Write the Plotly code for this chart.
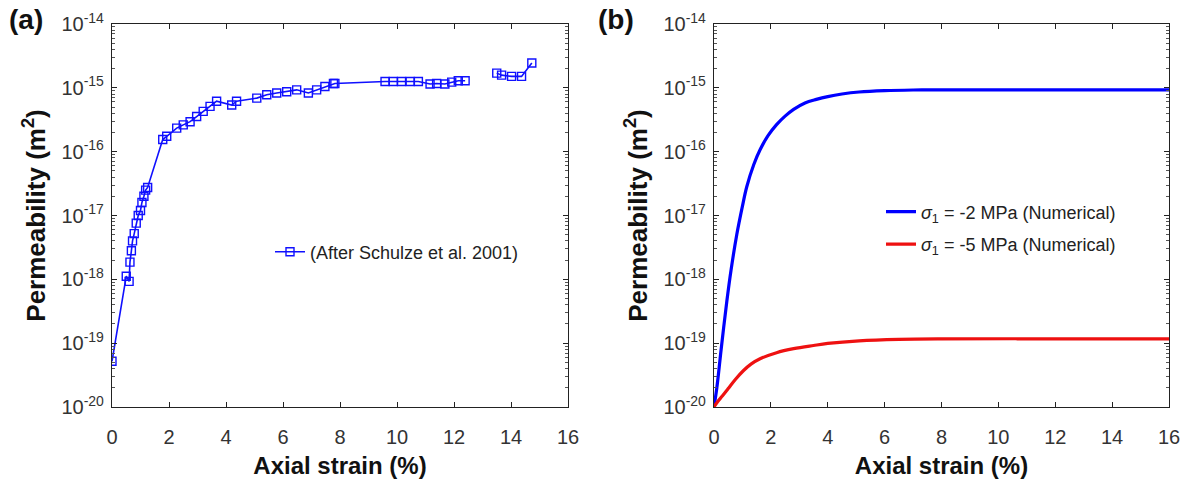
import plotly.graph_objects as go

# ---------------- data ----------------
# (a) experimental data, after Schulze et al. 2001 (None = gap in the line)
strain_exp = [0.0, 0.50, 0.60, 0.63, 0.68, 0.72, 0.78, 0.85, 0.92, 1.00, 1.05, 1.12, 1.18, 1.25,
              1.78, 1.92, 2.27, 2.50, 2.74, 2.97, 3.20, 3.44, 3.67,
              4.20, 4.37, 5.08, 5.43, 5.78, 6.13, 6.48, 6.89, 7.18, 7.47, 7.77, 7.82,
              9.58, 9.87, 10.16, 10.46, 10.75, 11.16, 11.39, 11.68, 11.92, 12.15, 12.39,
              None,
              13.50, 13.67, 14.02, 14.37, 14.73]
perm_exp = [5.2e-20, 1.12e-18, 9.3e-19, 1.86e-18, 2.8e-18, 4.0e-18, 5.2e-18, 7.6e-18, 1.0e-17,
            1.2e-17, 1.6e-17, 2.0e-17, 2.5e-17, 2.75e-17,
            1.55e-16, 1.74e-16, 2.34e-16, 2.63e-16, 2.95e-16, 3.55e-16, 4.27e-16, 5.13e-16, 6.17e-16,
            5.37e-16, 6.17e-16, 6.9e-16, 7.8e-16, 8.3e-16, 8.7e-16, 9.3e-16, 8.3e-16, 9.3e-16,
            1.05e-15, 1.17e-15, 1.17e-15,
            1.26e-15, 1.26e-15, 1.26e-15, 1.26e-15, 1.26e-15, 1.15e-15, 1.17e-15, 1.15e-15,
            1.23e-15, 1.29e-15, 1.29e-15,
            None,
            1.70e-15, 1.58e-15, 1.51e-15, 1.51e-15, 2.45e-15]

# (b) numerical results
strain_num_2 = [0.0, 0.10, 0.25, 0.45, 0.60, 0.80, 1.00, 1.15, 1.40, 1.62, 1.90, 2.20, 2.50,
                2.80, 3.20, 3.60, 4.00, 4.50, 5.10, 6.00, 7.00, 8.00, 12.0, 16.0]
perm_num_2 = [1.0e-20, 2.0e-20, 7.9e-20, 4.5e-19, 1.4e-18, 5.0e-18, 1.4e-17, 2.8e-17, 6.3e-17,
              1.07e-16, 1.78e-16, 2.65e-16, 3.6e-16, 4.6e-16, 5.8e-16, 6.6e-16, 7.3e-16,
              8.0e-16, 8.6e-16, 9.05e-16, 9.25e-16, 9.3e-16, 9.3e-16, 9.3e-16]

strain_num_5 = [0.0, 0.12, 0.30, 0.50, 0.75, 1.03, 1.30, 1.62, 2.20, 2.80, 3.50, 4.00, 5.10,
                6.50, 8.00, 12.0, 16.0]
perm_num_5 = [1.0e-20, 1.2e-20, 1.5e-20, 1.95e-20, 2.7e-20, 3.7e-20, 4.7e-20, 5.7e-20, 7.1e-20,
              8.2e-20, 9.2e-20, 9.9e-20, 1.09e-19, 1.15e-19, 1.17e-19, 1.17e-19, 1.17e-19]

x_ticks = [0, 2, 4, 6, 8, 10, 12, 14, 16]
y_exponents = [-20, -19, -18, -17, -16, -15, -14]

# ---------------- figure ----------------
FONT = "Liberation Sans, Arial, sans-serif"
TICKCOL = "#333333"

y_tickvals = [10.0 ** e for e in y_exponents]
y_ticktext = ["10<sup>%d</sup>" % e for e in y_exponents]
y_minor = [k * 10.0 ** e for e in y_exponents[:-1] for k in range(2, 10)]

fig = go.Figure()

fig.add_trace(go.Scatter(
    x=strain_exp, y=perm_exp, mode="lines+markers", connectgaps=False,
    name="(After Schulze et al. 2001)",
    line=dict(color="#1010ff", width=1.6),
    marker=dict(symbol="square-open", size=8, color="#1010ff", line=dict(width=1.4)),
    xaxis="x", yaxis="y", legend="legend"))

fig.add_trace(go.Scatter(
    x=strain_num_2, y=perm_num_2, mode="lines", line_shape="spline",
    name="<i>σ</i><sub>1</sub> = -2 MPa (Numerical)",
    line=dict(color="#0000ff", width=3.2),
    xaxis="x2", yaxis="y2", legend="legend2", legendgroup="a"))

fig.add_trace(go.Scatter(
    x=strain_num_5, y=perm_num_5, mode="lines", line_shape="spline",
    name="<i>σ</i><sub>1</sub> = -5 MPa (Numerical)",
    line=dict(color="#ee1111", width=3.2),
    xaxis="x2", yaxis="y2", legend="legend2", legendgroup="b"))

xa = dict(range=[0, 16], tickvals=x_ticks, ticks="inside", ticklen=5, tickwidth=1,
          tickcolor="#222", showline=True, linecolor="#222", linewidth=1.2, mirror="ticks",
          showgrid=False, zeroline=False, automargin=False, ticklabelstandoff=12,
          tickfont=dict(family=FONT, size=20, color=TICKCOL),
          title=dict(text="<b>Axial strain (%)</b>", font=dict(family=FONT, size=24, color="#111"),
                     standoff=10))
ya = dict(type="log", range=[-20, -14], tickvals=y_tickvals, ticktext=y_ticktext,
          ticks="inside", ticklen=5, tickwidth=1, tickcolor="#222",
          showline=True, linecolor="#222", linewidth=1.2, mirror="ticks",
          showgrid=False, zeroline=False, automargin=False, ticklabelstandoff=3,
          minor=dict(tickvals=y_minor, ticks="inside", ticklen=3, tickcolor="#555", showgrid=False),
          tickfont=dict(family=FONT, size=20, color=TICKCOL),
          title=dict(text="<b>Permeability (m<sup>2</sup>)</b>",
                     font=dict(family=FONT, size=26, color="#111"), standoff=8))

fig.update_layout(
    width=1190, height=480,
    margin=dict(l=0, r=0, t=0, b=0, autoexpand=False),
    paper_bgcolor="white", plot_bgcolor="white",
    showlegend=True,
    xaxis=dict(xa, domain=[112 / 1190, 568 / 1190], anchor="y"),
    yaxis=dict(ya, domain=[1 - 407 / 480, 1 - 24 / 480], anchor="x"),
    xaxis2=dict(xa, domain=[714 / 1190, 1169 / 1190], anchor="y2"),
    yaxis2=dict(ya, domain=[1 - 407 / 480, 1 - 24 / 480], anchor="x2"),
    legend=dict(x=270 / 1190, y=1 - 252 / 480, xanchor="left", yanchor="middle",
                bgcolor="rgba(0,0,0,0)", font=dict(family=FONT, size=18, color="#222")),
    legend2=dict(x=881 / 1190, y=1 - 228 / 480, xanchor="left", yanchor="middle",
                 bgcolor="rgba(0,0,0,0)", traceorder="grouped", tracegroupgap=6,
                 font=dict(family=FONT, size=18, color="#222")),
    annotations=[
        dict(text="<b>(a)</b>", x=7 / 1190, y=1 - 20 / 480, xref="paper", yref="paper",
             xanchor="left", yanchor="middle", showarrow=False,
             font=dict(family=FONT, size=28, color="#111")),
        dict(text="<b>(b)</b>", x=596 / 1190, y=1 - 20 / 480, xref="paper", yref="paper",
             xanchor="left", yanchor="middle", showarrow=False,
             font=dict(family=FONT, size=28, color="#111")),
    ],
)

fig.write_html("out.html")
